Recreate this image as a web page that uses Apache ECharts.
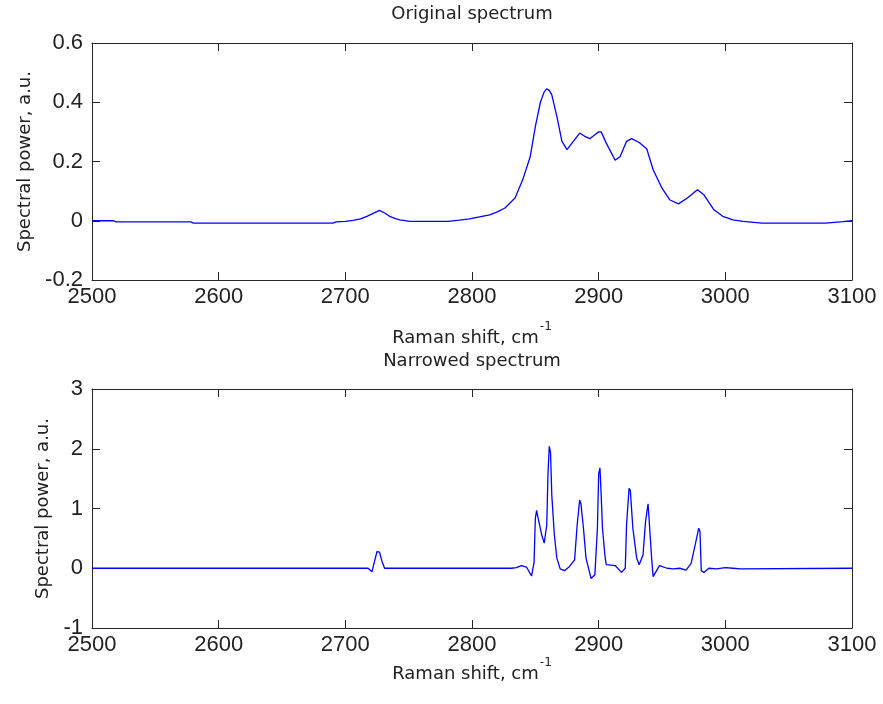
<!DOCTYPE html>
<html>
<head>
<meta charset="utf-8">
<script src="https://cdn.jsdelivr.net/npm/echarts@6/dist/echarts.min.js"></script>
<style>html,body{margin:0;padding:0;background:#fff;}#c{width:883px;height:704px;}</style>
</head>
<body>
<div id="c"></div>
<script>
// Original spectrum (Raman shift, value)
var origX = [2500,2517,2519,2578,2580,2690,2693,2700,2706,2712,2717,2722,2727,2731,2735,2739,2743,2751,2781,2790,2798,2806,2814,2820,2826,2834,2840,2846,2850,2854,2857,2859,2861,2863,2867,2871,2875,2880,2885,2889,2893,2897,2900,2902,2906,2913,2917,2922,2926,2932,2938,2943,2950,2956,2963,2970,2978,2983,2991,2998,3006,3014,3029,3079,3093,3100];
var origY = [0,0,-0.004,-0.004,-0.008,-0.008,-0.004,-0.002,0.001,0.006,0.015,0.025,0.035,0.026,0.015,0.008,0.003,-0.002,-0.002,0.002,0.006,0.013,0.02,0.03,0.043,0.077,0.138,0.217,0.318,0.40,0.435,0.445,0.44,0.425,0.352,0.268,0.24,0.268,0.296,0.285,0.277,0.29,0.30,0.30,0.262,0.204,0.217,0.268,0.277,0.264,0.242,0.172,0.11,0.071,0.057,0.077,0.105,0.088,0.037,0.015,0.003,-0.002,-0.008,-0.008,-0.003,0];
// Narrowed spectrum
var narrX = [2500,2718,2721,2723,2725,2727,2729,2731,2831,2832,2835,2839,2843,2847,2849,2850,2851,2852,2855,2857,2858,2859,2860,2861,2862,2863,2865,2867,2869.6,2873,2877,2881,2883,2885,2886,2888,2890,2894,2897,2899,2900,2901,2902,2903,2905,2906,2913,2918,2921,2922,2924,2925,2927,2930,2932,2935,2937,2939,2940.5,2942,2943,2944.5,2948,2954,2959,2964,2969,2973,2977,2979,2980,2981,2983,2987,2993,3000,3006,3012,3100];
var narrY = [0,0,-0.06,0.11,0.28,0.27,0.11,0,0,-0.02,0.01,0.045,0.02,-0.13,0.1,0.83,0.97,0.86,0.56,0.42,0.40,0.72,1.58,2.04,1.94,1.22,0.56,0.17,-0.01,-0.04,0.03,0.14,0.72,1.14,1.08,0.67,0.17,-0.17,-0.11,0.67,1.58,1.68,1.22,0.67,0.2,0.06,0.045,-0.07,0,0.72,1.34,1.3,0.67,0.17,0.06,0.22,0.78,1.08,1.06,0.11,-0.14,-0.11,0.045,0,-0.01,0,-0.03,0.08,0.47,0.67,0.61,-0.04,-0.07,0,-0.01,0.01,0,-0.01,0];

var titles = ['Original spectrum', 'Narrowed spectrum'];
var xName = 'Raman shift, cm';
var xNameSup = '-1';
var yName = 'Spectral power, a.u.';
var xRange = [2500, 3100, 100];
var yRangeTop = [-0.2, 0.6, 0.2];
var yRangeBottom = [-1, 3, 1];

function pairs(xs, ys){ return xs.map(function(x,i){ return [x, ys[i]]; }); }

var axisColor = '#262626';
var labelFont = 'DejaVu Sans';
var tickFont = 'Liberation Sans';

function xAx(grid, show, pos, gap){
  return {
    type:'value', gridIndex:grid, position:pos, min:xRange[0], max:xRange[1], interval:xRange[2],
    axisLine:{show:true, onZero:false, lineStyle:{color:axisColor, width:1}},
    axisTick:{show:true, inside:true, length:8, lineStyle:{color:axisColor}},
    axisLabel:{show:show, color:'#222', fontSize:22, fontFamily:tickFont, margin:6,
               formatter:function(v){ return String(v); }},
    splitLine:{show:false},
    name: show ? '{m|' + xName + '}{sup|' + xNameSup + '}' : '',
    nameLocation:'middle', nameGap:gap,
    nameTextStyle:{
      rich:{
        m:{fontSize:18, fontFamily:labelFont, color:'#222', verticalAlign:'bottom', padding:[8,0,0,0]},
        sup:{fontSize:12, fontFamily:labelFont, color:'#222', verticalAlign:'top', padding:[0,0,0,1]}
      }
    }
  };
}
function yAx(grid, show, pos, r, gap){
  return {
    type:'value', gridIndex:grid, position:pos, min:r[0], max:r[1], interval:r[2],
    axisLine:{show:true, onZero:false, lineStyle:{color:axisColor, width:1}},
    axisTick:{show:true, inside:true, length:8, lineStyle:{color:axisColor}},
    axisLabel:{show:show, color:'#222', fontSize:22, fontFamily:tickFont, margin:9},
    splitLine:{show:false},
    name: show ? yName : '', nameLocation:'middle', nameGap:gap, nameRotate:90,
    nameTextStyle:{fontSize:18, fontFamily:labelFont, color:'#222'}
  };
}

var chart = echarts.init(document.getElementById('c'), null, {renderer:'canvas'});
chart.setOption({
  animation:false,
  backgroundColor:'#fff',
  title:[
    {text:titles[0], left:472, top:5, textAlign:'center', padding:0,
     textStyle:{fontSize:18, fontWeight:'normal', fontFamily:labelFont, color:'#222'}},
    {text:titles[1], left:472, top:352, textAlign:'center', padding:0,
     textStyle:{fontSize:18, fontWeight:'normal', fontFamily:labelFont, color:'#222'}}
  ],
  grid:[
    {left:92, right:31, top:43, height:237, containLabel:false},
    {left:92, right:31, top:389, height:239, containLabel:false}
  ],
  xAxis:[ xAx(0,true,'bottom',41), xAx(0,false,'top',0), xAx(1,true,'bottom',29), xAx(1,false,'top',0) ],
  yAxis:[ yAx(0,true,'left',yRangeTop,58), yAx(0,false,'right',yRangeTop,0),
          yAx(1,true,'left',yRangeBottom,40), yAx(1,false,'right',yRangeBottom,0) ],
  series:[
    {type:'line', xAxisIndex:0, yAxisIndex:0, data:pairs(origX, origY), showSymbol:false, symbol:'none',
     lineStyle:{color:'#0000ff', width:1.3}, clip:true},
    {type:'line', xAxisIndex:2, yAxisIndex:2, data:pairs(narrX, narrY), showSymbol:false, symbol:'none',
     lineStyle:{color:'#0000ff', width:1.3}, clip:true}
  ]
});
</script>
</body>
</html>
